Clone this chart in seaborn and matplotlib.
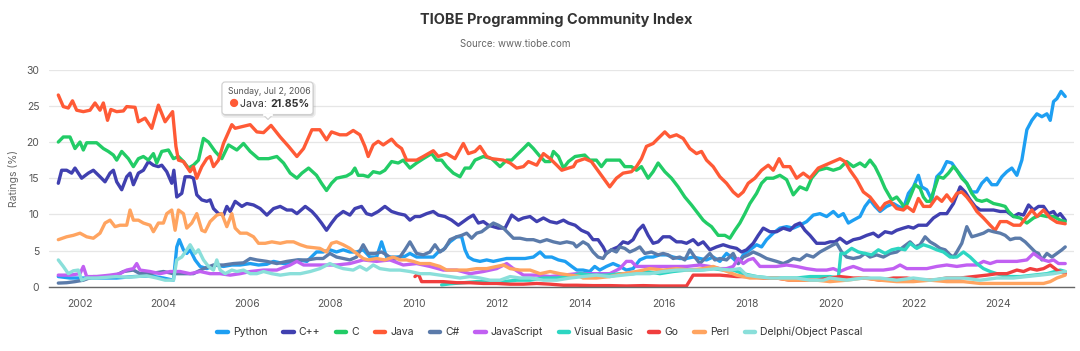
import matplotlib
matplotlib.use("Agg")
import matplotlib.pyplot as plt
import seaborn as sns
import pandas as pd
from matplotlib.lines import Line2D
from matplotlib.patches import Polygon, FancyBboxPatch
from matplotlib.text import Annotation
from matplotlib.transforms import IdentityTransform

# ---------------- data (year, rating %) ----------------
languages = ["Python", "C++", "C", "Java", "C#", "JavaScript",
             "Visual Basic", "Go", "Perl", "Delphi/Object Pascal"]
colors = ["#1E9FF2", "#4040B0", "#22CC66", "#FF5A36", "#5B7BAA",
          "#C160F2", "#2DD6C2", "#F03E3E", "#FFA460", "#8ADFDA"]

python = [(2001.48,1.4),(2001.76,1.2),(2002.08,1.2),(2002.48,1.2),(2002.88,1.2),(2003.28,1.4),(2003.68,1.5),(2004.00,1.2),(2004.24,0.9),(2004.32,5.5),(2004.38,6.5),(2004.48,5.1),(2004.56,4.6),(2004.64,5.1),(2004.76,3.7),(2004.88,2.8),(2005.04,2.5),(2005.24,3.0),(2005.44,2.8),(2005.64,3.0),(2005.84,3.0),(2006.08,3.2),(2006.28,3.0),(2006.48,3.1),(2006.64,3.5),(2006.88,3.2),(2007.04,3.2),(2007.24,3.7),(2007.44,3.5),(2007.67,4.8),(2007.83,4.8),(2007.99,5.1),(2008.15,4.8),(2008.31,5.1),(2008.47,4.8),(2008.63,4.8),(2008.79,5.1),(2008.95,4.1),(2009.11,4.1),(2009.23,6.2),(2009.35,4.1),(2009.59,4.1),(2009.79,4.2),(2009.91,4.6),(2010.07,4.1),(2010.27,4.1),(2010.47,4.1),(2010.59,4.8),(2010.71,5.1),(2010.87,6.2),(2011.03,6.9),(2011.15,6.9),(2011.23,5.1),(2011.31,4.1),(2011.43,3.7),(2011.59,3.5),(2011.75,3.7),(2011.91,3.5),(2012.07,3.7),(2012.23,3.9),(2012.47,3.9),(2012.67,3.9),(2012.87,4.1),(2013.03,4.8),(2013.15,4.1),(2013.31,4.1),(2013.47,3.7),(2013.63,3.5),(2013.79,2.8),(2013.91,2.3),(2014.06,2.3),(2014.22,2.1),(2014.34,2.8),(2014.46,2.3),(2014.62,2.8),(2014.78,3.2),(2014.94,2.8),(2015.10,2.3),(2015.26,2.5),(2015.42,3.7),(2015.58,4.1),(2015.74,4.1),(2015.90,4.4),(2016.06,4.4),(2016.22,4.1),(2016.38,3.9),(2016.54,3.9),(2016.70,4.1),(2016.86,3.9),(2017.02,3.7),(2017.18,4.1),(2017.34,3.5),(2017.50,4.6),(2017.66,3.9),(2017.78,3.2),(2017.90,4.4),(2018.06,5.1),(2018.22,5.8),(2018.34,5.5),(2018.46,6.5),(2018.62,7.4),(2018.78,8.1),(2018.94,8.3),(2019.10,8.1),(2019.26,8.5),(2019.42,9.0),(2019.58,9.9),(2019.74,10.1),(2019.90,9.7),(2020.06,10.4),(2020.18,9.7),(2020.30,10.1),(2020.42,8.8),(2020.54,9.2),(2020.70,9.7),(2020.82,11.1),(2020.94,12.0),(2021.06,11.1),(2021.18,10.4),(2021.34,11.1),(2021.50,11.5),(2021.62,11.1),(2021.74,10.8),(2021.86,12.9),(2021.98,13.8),(2022.10,15.4),(2022.18,13.8),(2022.30,13.4),(2022.42,12.0),(2022.54,15.2),(2022.66,15.9),(2022.78,17.3),(2022.90,17.1),(2023.02,16.1),(2023.14,15.2),(2023.26,14.3),(2023.38,13.1),(2023.50,13.1),(2023.62,14.3),(2023.74,15.0),(2023.86,14.1),(2023.98,14.1),(2024.10,15.2),(2024.22,15.9),(2024.34,16.4),(2024.46,15.4),(2024.58,17.5),(2024.70,21.7),(2024.82,23.0),(2024.94,23.9),(2025.06,23.5),(2025.18,23.9),(2025.26,23.0),(2025.34,25.6),(2025.42,26.0),(2025.52,27.0),(2025.62,26.3)]

cpp = [(2001.48,14.3),(2001.56,16.1),(2001.68,16.1),(2001.80,15.7),(2001.88,16.4),(2002.04,15.0),(2002.20,15.7),(2002.32,16.1),(2002.48,15.2),(2002.60,14.5),(2002.72,15.7),(2002.80,16.1),(2002.88,14.5),(2003.00,13.4),(2003.12,15.2),(2003.20,15.7),(2003.28,14.1),(2003.40,15.7),(2003.52,16.1),(2003.64,17.3),(2003.76,16.8),(2003.88,16.6),(2003.96,16.8),(2004.08,15.9),(2004.20,14.3),(2004.25,16.1),(2004.32,12.4),(2004.44,12.9),(2004.52,15.2),(2004.64,15.2),(2004.72,15.0),(2004.80,12.7),(2004.92,12.0),(2005.04,11.8),(2005.12,12.0),(2005.20,10.8),(2005.32,10.1),(2005.44,9.9),(2005.52,11.1),(2005.60,10.4),(2005.72,11.8),(2005.88,11.1),(2006.00,11.5),(2006.16,11.3),(2006.32,10.8),(2006.48,9.9),(2006.64,10.8),(2006.80,11.1),(2006.96,10.6),(2007.08,10.6),(2007.20,10.1),(2007.40,11.1),(2007.56,10.4),(2007.67,9.7),(2007.79,8.8),(2007.91,7.8),(2008.03,8.8),(2008.15,9.7),(2008.31,10.4),(2008.47,9.9),(2008.59,10.8),(2008.75,11.1),(2008.87,10.1),(2008.99,9.9),(2009.15,10.4),(2009.31,11.1),(2009.47,10.4),(2009.63,10.1),(2009.79,9.9),(2009.91,9.2),(2010.03,9.7),(2010.15,9.7),(2010.31,10.1),(2010.47,10.4),(2010.59,9.9),(2010.75,9.7),(2010.91,9.2),(2011.07,8.5),(2011.19,9.0),(2011.31,9.5),(2011.43,9.9),(2011.55,8.8),(2011.67,9.0),(2011.79,8.5),(2011.91,8.3),(2012.03,8.1),(2012.19,8.1),(2012.35,9.9),(2012.51,9.2),(2012.63,9.5),(2012.79,9.7),(2012.95,9.0),(2013.11,9.5),(2013.27,9.0),(2013.43,8.8),(2013.59,9.2),(2013.71,8.8),(2013.87,8.5),(2014.02,7.8),(2014.18,7.4),(2014.30,6.5),(2014.42,6.5),(2014.54,5.5),(2014.62,4.6),(2014.74,5.1),(2014.90,5.5),(2015.02,6.2),(2015.14,6.0),(2015.26,6.5),(2015.38,7.8),(2015.50,8.5),(2015.62,7.1),(2015.74,6.0),(2015.86,6.2),(2015.98,6.9),(2016.14,6.9),(2016.30,6.2),(2016.42,6.2),(2016.54,6.0),(2016.70,6.5),(2016.82,5.8),(2016.94,6.2),(2017.10,5.1),(2017.26,5.5),(2017.42,5.8),(2017.58,5.5),(2017.74,5.3),(2017.86,4.8),(2017.98,5.1),(2018.14,6.0),(2018.26,7.1),(2018.38,8.1),(2018.54,7.6),(2018.70,7.6),(2018.86,8.1),(2019.02,7.8),(2019.14,8.5),(2019.26,8.8),(2019.38,7.8),(2019.50,7.1),(2019.66,6.0),(2019.86,6.0),(2019.98,6.2),(2020.10,6.2),(2020.22,6.7),(2020.38,6.0),(2020.54,6.5),(2020.70,6.7),(2020.86,7.1),(2021.02,7.4),(2021.14,6.9),(2021.30,7.6),(2021.46,7.4),(2021.58,7.8),(2021.74,8.1),(2021.86,8.3),(2021.98,8.1),(2022.10,8.5),(2022.30,8.5),(2022.46,9.5),(2022.62,10.1),(2022.78,10.1),(2022.94,11.5),(2023.10,13.8),(2023.22,13.1),(2023.34,12.0),(2023.46,11.1),(2023.58,10.6),(2023.74,10.6),(2023.90,10.6),(2024.06,10.4),(2024.22,10.4),(2024.38,9.7),(2024.50,10.1),(2024.62,9.9),(2024.74,11.3),(2024.86,10.6),(2024.98,11.1),(2025.10,11.1),(2025.22,10.1),(2025.34,10.4),(2025.42,9.7),(2025.50,10.1),(2025.62,9.2)]

c_lang = [(2001.48,20.0),(2001.60,20.7),(2001.76,20.7),(2001.88,19.1),(2002.00,20.0),(2002.08,18.9),(2002.16,19.9),(2002.40,19.9),(2002.56,19.1),(2002.68,18.7),(2002.80,18.2),(2002.88,17.5),(2003.00,18.7),(2003.16,17.7),(2003.28,16.6),(2003.40,17.7),(2003.52,18.0),(2003.64,17.5),(2003.76,18.4),(2003.84,17.1),(2003.96,18.7),(2004.12,18.9),(2004.24,17.7),(2004.36,18.0),(2004.48,17.3),(2004.60,16.4),(2004.72,16.8),(2004.84,17.5),(2004.96,20.5),(2005.08,20.0),(2005.24,18.7),(2005.40,17.7),(2005.56,19.6),(2005.76,18.9),(2005.92,19.8),(2006.08,18.7),(2006.28,17.7),(2006.52,17.7),(2006.72,18.0),(2006.88,17.1),(2007.04,15.7),(2007.20,15.0),(2007.32,15.7),(2007.48,16.4),(2007.67,15.4),(2007.79,14.3),(2007.91,13.3),(2008.03,14.3),(2008.15,15.0),(2008.39,15.3),(2008.51,15.7),(2008.59,16.4),(2008.67,15.4),(2008.79,15.4),(2008.91,15.2),(2009.03,15.9),(2009.19,15.7),(2009.31,16.1),(2009.47,17.3),(2009.63,17.1),(2009.75,17.5),(2009.91,16.4),(2010.07,17.1),(2010.23,17.7),(2010.43,18.4),(2010.55,17.5),(2010.67,17.5),(2010.79,16.6),(2010.95,15.7),(2011.11,15.2),(2011.23,16.4),(2011.35,16.4),(2011.47,17.5),(2011.67,18.0),(2011.87,17.7),(2012.07,16.6),(2012.23,17.5),(2012.35,17.5),(2012.47,18.2),(2012.63,19.1),(2012.75,19.8),(2012.87,19.1),(2013.03,18.0),(2013.15,17.3),(2013.27,17.3),(2013.35,18.7),(2013.47,18.0),(2013.59,16.4),(2013.71,17.3),(2013.87,18.0),(2014.10,18.2),(2014.22,17.5),(2014.38,17.5),(2014.50,16.6),(2014.62,17.5),(2014.78,17.5),(2014.94,17.5),(2015.06,16.6),(2015.22,16.6),(2015.34,16.1),(2015.46,16.6),(2015.62,15.0),(2015.74,15.9),(2015.86,17.1),(2016.02,15.9),(2016.18,15.0),(2016.34,13.8),(2016.50,12.4),(2016.66,11.3),(2016.82,10.1),(2016.94,9.2),(2017.02,8.8),(2017.14,8.3),(2017.30,7.1),(2017.46,7.1),(2017.58,6.7),(2017.70,7.8),(2017.82,8.8),(2017.94,10.1),(2018.06,11.5),(2018.22,12.9),(2018.34,14.3),(2018.46,15.0),(2018.62,15.0),(2018.78,15.4),(2018.94,14.8),(2019.10,12.7),(2019.26,13.8),(2019.42,13.4),(2019.54,15.0),(2019.70,16.1),(2019.90,16.4),(2020.06,16.1),(2020.22,16.4),(2020.38,17.3),(2020.54,16.6),(2020.70,17.1),(2020.82,16.6),(2020.94,17.5),(2021.06,16.6),(2021.18,15.2),(2021.30,13.6),(2021.46,12.0),(2021.58,12.4),(2021.70,11.5),(2021.78,10.8),(2021.90,12.4),(2022.02,14.1),(2022.14,13.6),(2022.22,12.4),(2022.30,11.8),(2022.38,11.8),(2022.50,13.8),(2022.58,15.2),(2022.70,15.0),(2022.82,15.7),(2022.94,16.6),(2023.02,16.1),(2023.14,15.0),(2023.26,14.3),(2023.38,12.9),(2023.50,12.0),(2023.62,11.8),(2023.74,12.0),(2023.90,11.5),(2024.06,11.3),(2024.18,11.1),(2024.26,10.4),(2024.38,9.7),(2024.54,9.5),(2024.70,8.8),(2024.86,9.5),(2025.02,9.9),(2025.18,9.7),(2025.34,9.7),(2025.50,9.2),(2025.62,9.0)]

java = [(2001.48,26.5),(2001.60,24.9),(2001.72,24.7),(2001.82,25.7),(2001.92,24.4),(2002.08,24.2),(2002.24,24.4),(2002.36,25.4),(2002.48,24.4),(2002.56,25.4),(2002.66,23.0),(2002.74,24.5),(2002.88,24.2),(2003.04,24.3),(2003.12,24.9),(2003.32,24.8),(2003.40,22.8),(2003.56,23.3),(2003.72,21.9),(2003.88,25.1),(2004.04,22.8),(2004.22,24.2),(2004.30,19.4),(2004.36,17.5),(2004.48,17.3),(2004.64,15.9),(2004.72,16.6),(2004.80,15.0),(2004.92,16.6),(2005.04,17.7),(2005.12,18.0),(2005.20,16.6),(2005.32,17.5),(2005.44,19.8),(2005.64,22.4),(2005.72,21.9),(2006.08,22.4),(2006.24,21.4),(2006.40,21.3),(2006.50,21.85),(2006.58,22.3),(2006.80,20.7),(2007.00,19.4),(2007.20,18.0),(2007.36,19.1),(2007.56,21.7),(2007.75,21.7),(2007.91,20.3),(2008.03,21.4),(2008.23,21.0),(2008.39,21.0),(2008.55,21.6),(2008.71,21.0),(2008.83,19.4),(2008.91,18.0),(2009.03,19.6),(2009.15,20.1),(2009.27,19.6),(2009.47,20.4),(2009.59,19.6),(2009.71,19.1),(2009.83,17.5),(2010.07,17.5),(2010.23,18.0),(2010.47,18.8),(2010.59,18.0),(2010.79,18.4),(2010.99,17.7),(2011.19,19.8),(2011.31,18.4),(2011.47,18.7),(2011.59,19.4),(2011.75,18.0),(2011.87,17.7),(2012.15,17.5),(2012.31,17.1),(2012.47,16.4),(2012.63,16.6),(2012.75,17.3),(2012.95,16.8),(2013.11,18.4),(2013.27,17.7),(2013.43,16.8),(2013.55,16.1),(2013.71,16.4),(2013.83,16.6),(2013.90,17.3),(2014.10,17.7),(2014.26,17.3),(2014.46,15.7),(2014.70,13.8),(2014.86,15.0),(2015.02,15.7),(2015.22,15.9),(2015.34,16.6),(2015.46,17.7),(2015.58,19.4),(2015.74,19.8),(2015.86,20.5),(2016.02,21.4),(2016.14,20.7),(2016.30,21.0),(2016.46,20.5),(2016.62,19.1),(2016.78,18.4),(2016.90,18.7),(2017.02,17.5),(2017.18,16.6),(2017.34,15.2),(2017.50,14.3),(2017.66,13.1),(2017.78,12.5),(2017.90,13.1),(2018.02,14.3),(2018.18,15.0),(2018.34,16.1),(2018.50,16.8),(2018.62,16.1),(2018.76,17.7),(2018.86,16.6),(2019.02,16.6),(2019.18,15.0),(2019.34,15.7),(2019.50,15.0),(2019.70,16.4),(2019.98,17.1),(2020.14,17.5),(2020.22,17.7),(2020.34,17.3),(2020.46,16.1),(2020.62,14.8),(2020.78,13.1),(2020.94,12.4),(2021.06,11.5),(2021.18,10.6),(2021.30,11.5),(2021.42,11.8),(2021.58,10.8),(2021.74,10.6),(2021.82,11.1),(2021.98,10.4),(2022.10,12.2),(2022.22,11.1),(2022.38,11.1),(2022.54,12.4),(2022.66,11.8),(2022.78,12.7),(2022.90,11.8),(2023.02,12.9),(2023.14,13.1),(2023.26,12.4),(2023.38,11.5),(2023.50,10.4),(2023.66,9.5),(2023.82,8.5),(2023.94,7.8),(2024.06,9.0),(2024.22,9.0),(2024.38,8.5),(2024.54,8.5),(2024.70,9.7),(2024.82,10.6),(2024.94,9.7),(2025.10,10.6),(2025.26,9.5),(2025.42,8.9),(2025.62,8.7)]

csharp = [(2001.48,0.5),(2001.68,0.55),(2001.88,0.7),(2002.08,0.9),(2002.32,1.4),(2002.56,1.4),(2002.80,1.4),(2003.04,2.1),(2003.28,2.3),(2003.44,1.8),(2003.68,1.8),(2004.00,2.1),(2004.24,1.8),(2004.48,1.8),(2004.72,1.8),(2004.96,2.5),(2005.20,3.0),(2005.44,3.0),(2005.68,3.2),(2005.92,3.3),(2006.08,3.9),(2006.24,3.7),(2006.48,3.5),(2006.72,3.2),(2006.96,3.5),(2007.20,3.7),(2007.44,3.7),(2007.67,3.9),(2007.83,3.9),(2007.99,4.6),(2008.15,4.1),(2008.31,3.9),(2008.47,3.7),(2008.63,4.1),(2008.79,5.8),(2008.91,4.6),(2009.07,4.6),(2009.23,4.8),(2009.35,4.4),(2009.51,3.7),(2009.67,4.1),(2009.79,5.1),(2009.91,6.2),(2010.07,4.6),(2010.23,4.4),(2010.39,4.8),(2010.51,5.8),(2010.63,4.8),(2010.75,5.3),(2010.87,6.5),(2011.03,6.9),(2011.15,7.1),(2011.27,7.4),(2011.39,6.7),(2011.51,7.4),(2011.63,7.6),(2011.79,8.3),(2011.91,8.8),(2012.03,8.5),(2012.15,8.1),(2012.27,7.4),(2012.39,6.7),(2012.55,6.7),(2012.71,6.5),(2012.87,6.5),(2013.03,6.2),(2013.19,6.5),(2013.35,6.2),(2013.51,6.0),(2013.67,6.2),(2013.83,6.0),(2013.90,5.5),(2014.06,6.2),(2014.18,5.8),(2014.30,4.8),(2014.42,4.1),(2014.54,3.9),(2014.62,4.6),(2014.74,5.1),(2014.86,4.8),(2014.94,5.5),(2015.06,5.3),(2015.18,4.8),(2015.30,5.1),(2015.42,5.5),(2015.54,4.6),(2015.70,4.8),(2015.86,4.4),(2015.98,4.6),(2016.10,4.4),(2016.22,3.9),(2016.38,4.1),(2016.50,3.7),(2016.62,5.1),(2016.74,4.1),(2016.86,3.2),(2016.98,3.9),(2017.10,4.6),(2017.22,3.7),(2017.34,3.9),(2017.50,3.7),(2017.66,4.6),(2017.78,3.2),(2017.90,4.1),(2018.02,4.4),(2018.14,4.8),(2018.30,4.4),(2018.46,3.9),(2018.58,3.7),(2018.70,3.5),(2018.86,3.2),(2018.98,3.5),(2019.10,3.9),(2019.26,3.7),(2019.42,4.4),(2019.58,4.1),(2019.74,4.8),(2019.90,5.3),(2020.06,5.8),(2020.14,6.0),(2020.26,4.8),(2020.38,4.1),(2020.54,3.9),(2020.70,4.1),(2020.82,4.6),(2020.94,4.1),(2021.10,4.4),(2021.26,4.1),(2021.42,4.6),(2021.58,4.8),(2021.74,5.5),(2021.90,6.2),(2022.02,5.5),(2022.14,5.8),(2022.26,6.9),(2022.38,6.2),(2022.50,5.8),(2022.62,5.3),(2022.74,5.1),(2022.86,4.4),(2022.94,4.1),(2023.02,4.8),(2023.14,6.0),(2023.26,8.3),(2023.38,6.9),(2023.50,7.1),(2023.66,7.4),(2023.78,7.8),(2023.90,7.6),(2024.06,7.4),(2024.18,7.1),(2024.30,6.5),(2024.42,6.7),(2024.54,6.7),(2024.66,6.2),(2024.78,5.5),(2024.90,4.8),(2024.98,4.6),(2025.06,3.7),(2025.18,4.6),(2025.30,4.1),(2025.42,4.6),(2025.54,5.1),(2025.62,5.5)]

javascript = [(2001.48,1.6),(2001.76,1.6),(2002.00,1.8),(2002.08,2.8),(2002.16,1.4),(2002.40,1.4),(2002.72,1.6),(2002.96,1.8),(2003.12,2.3),(2003.28,2.5),(2003.36,3.2),(2003.44,2.3),(2003.68,2.1),(2003.92,1.8),(2004.16,2.1),(2004.40,2.1),(2004.64,1.8),(2004.88,2.1),(2005.12,1.8),(2005.36,1.8),(2005.60,1.6),(2005.84,1.8),(2006.08,2.1),(2006.40,2.3),(2006.72,2.3),(2007.04,3.0),(2007.20,3.5),(2007.36,3.0),(2007.60,3.0),(2007.83,3.0),(2008.15,3.0),(2008.47,3.2),(2008.79,3.7),(2009.11,3.5),(2009.43,3.7),(2009.75,3.0),(2010.07,3.2),(2010.39,2.8),(2010.71,2.3),(2011.03,2.3),(2011.35,1.8),(2011.67,2.1),(2011.99,2.5),(2012.23,3.2),(2012.39,2.5),(2012.63,1.6),(2012.95,1.6),(2013.27,1.4),(2013.59,1.6),(2013.91,1.8),(2014.38,1.8),(2014.70,1.8),(2014.94,2.5),(2015.10,3.5),(2015.22,3.5),(2015.34,2.8),(2015.58,2.8),(2015.90,2.8),(2016.22,2.8),(2016.54,2.8),(2016.86,3.0),(2017.10,2.8),(2017.34,2.5),(2017.50,2.5),(2017.66,2.8),(2017.78,3.9),(2017.90,3.2),(2018.02,3.7),(2018.14,3.9),(2018.30,2.8),(2018.46,2.8),(2018.70,2.8),(2018.94,3.0),(2019.18,2.8),(2019.42,2.5),(2019.66,2.3),(2019.90,2.3),(2020.06,2.5),(2020.22,2.1),(2020.38,2.5),(2020.54,2.8),(2020.78,2.3),(2021.02,2.3),(2021.26,2.3),(2021.50,2.5),(2021.66,3.0),(2021.82,2.5),(2022.06,2.5),(2022.30,2.5),(2022.54,2.8),(2022.78,3.0),(2023.02,2.8),(2023.26,3.0),(2023.50,3.0),(2023.66,3.5),(2023.82,3.2),(2023.98,3.5),(2024.22,3.5),(2024.46,3.5),(2024.70,3.7),(2024.86,4.6),(2024.98,4.1),(2025.10,3.7),(2025.22,3.5),(2025.34,3.7),(2025.46,3.2),(2025.62,3.2)]

visual_basic = [(2010.67,0.25),(2010.87,0.4),(2011.19,0.55),(2011.51,0.7),(2011.83,0.7),(2012.15,0.7),(2012.47,0.9),(2012.79,0.9),(2013.11,1.2),(2013.43,1.2),(2013.75,1.4),(2013.99,1.8),(2014.30,1.6),(2014.62,1.6),(2014.94,1.8),(2015.26,1.8),(2015.58,2.1),(2015.90,1.8),(2016.22,2.1),(2016.54,2.3),(2016.86,2.3),(2017.18,2.5),(2017.42,2.3),(2017.66,2.3),(2017.90,1.8),(2018.22,1.4),(2018.54,1.2),(2018.86,1.2),(2019.18,1.2),(2019.50,1.4),(2019.82,1.4),(2019.98,1.4),(2020.18,1.2),(2020.24,4.6),(2020.34,4.6),(2020.50,5.3),(2020.66,4.8),(2020.82,4.6),(2020.98,4.4),(2021.14,5.1),(2021.30,4.6),(2021.46,5.1),(2021.62,5.3),(2021.78,5.1),(2021.90,6.0),(2022.06,5.3),(2022.22,5.8),(2022.38,5.5),(2022.54,5.1),(2022.70,4.8),(2022.86,4.1),(2023.02,4.1),(2023.18,4.8),(2023.34,4.1),(2023.50,3.2),(2023.66,2.5),(2023.82,2.1),(2023.98,1.8),(2024.22,1.4),(2024.54,1.4),(2024.86,1.6),(2025.18,1.8),(2025.50,2.3),(2025.62,2.1)]

go = [(2010.03,1.4),(2010.11,1.8),(2010.19,0.7),(2010.39,0.7),(2010.71,0.7),(2011.03,0.55),(2011.35,0.55),(2011.67,0.45),(2011.99,0.45),(2012.31,0.35),(2012.63,0.35),(2012.95,0.45),(2013.27,0.35),(2013.59,0.2),(2013.91,0.2),(2014.30,0.15),(2014.70,0.15),(2015.10,0.1),(2015.50,0.15),(2015.90,0.1),(2016.30,0.1),(2016.54,0.1),(2016.70,1.6),(2016.94,1.6),(2017.34,1.6),(2017.74,1.4),(2018.06,1.4),(2018.38,1.2),(2018.70,1.2),(2019.02,0.9),(2019.34,0.9),(2019.66,0.9),(2019.98,1.2),(2020.22,1.4),(2020.54,1.2),(2020.86,1.2),(2021.18,0.9),(2021.50,1.2),(2021.82,1.2),(2022.14,0.9),(2022.46,0.9),(2022.78,1.2),(2023.10,1.2),(2023.42,1.4),(2023.74,1.6),(2023.98,1.8),(2024.22,1.8),(2024.46,2.3),(2024.62,2.1),(2024.78,2.5),(2024.94,2.3),(2025.10,2.5),(2025.26,3.0),(2025.42,2.3),(2025.62,1.8)]

perl = [(2001.48,6.5),(2001.68,6.9),(2001.84,7.1),(2002.00,7.4),(2002.16,6.9),(2002.32,6.7),(2002.48,7.4),(2002.60,8.8),(2002.72,9.2),(2002.84,8.3),(2002.96,8.5),(2003.12,8.5),(2003.20,10.6),(2003.28,9.2),(2003.40,9.2),(2003.52,8.8),(2003.68,8.5),(2003.76,7.6),(2003.88,8.8),(2004.00,8.8),(2004.08,10.1),(2004.20,10.6),(2004.28,7.8),(2004.36,10.6),(2004.48,10.1),(2004.56,8.1),(2004.68,8.8),(2004.80,10.1),(2004.92,7.8),(2005.00,7.6),(2005.12,9.0),(2005.28,9.9),(2005.40,10.1),(2005.52,8.3),(2005.64,10.1),(2005.72,8.1),(2005.84,7.4),(2006.00,7.4),(2006.16,6.9),(2006.28,6.0),(2006.44,6.0),(2006.60,6.2),(2006.80,6.0),(2006.96,6.2),(2007.12,6.2),(2007.28,5.8),(2007.44,5.5),(2007.75,5.3),(2007.91,4.8),(2008.03,6.0),(2008.15,6.2),(2008.31,5.8),(2008.47,5.3),(2008.63,4.6),(2008.79,3.9),(2008.91,3.7),(2009.11,3.9),(2009.31,3.7),(2009.51,4.1),(2009.67,3.7),(2009.83,3.7),(2009.99,3.5),(2010.15,3.2),(2010.39,3.2),(2010.63,2.8),(2010.79,2.3),(2011.03,2.3),(2011.27,2.3),(2011.51,2.5),(2011.75,2.5),(2011.99,2.8),(2012.15,3.0),(2012.31,2.5),(2012.55,2.3),(2012.79,2.3),(2013.03,1.8),(2013.27,2.1),(2013.51,1.8),(2013.75,1.6),(2013.99,1.4),(2014.06,1.2),(2014.38,1.2),(2014.70,1.4),(2015.02,1.8),(2015.34,2.1),(2015.66,2.5),(2015.98,2.3),(2016.30,2.5),(2016.62,2.3),(2016.94,2.5),(2017.18,2.8),(2017.42,2.3),(2017.74,1.6),(2018.06,1.2),(2018.38,1.2),(2018.70,1.2),(2019.02,0.9),(2019.34,0.9),(2019.66,0.9),(2019.98,0.7),(2020.38,0.9),(2020.78,1.2),(2021.18,0.9),(2021.58,0.7),(2021.98,0.7),(2022.38,0.9),(2022.78,0.7),(2023.18,0.7),(2023.58,0.45),(2023.98,0.45),(2024.38,0.45),(2024.78,0.45),(2025.10,0.45),(2025.26,0.7),(2025.42,1.2),(2025.62,1.6)]

delphi = [(2001.48,3.7),(2001.60,2.8),(2001.72,1.8),(2001.84,2.2),(2001.96,2.3),(2002.04,0.9),(2002.16,1.2),(2002.40,1.2),(2002.64,1.3),(2002.88,1.4),(2003.12,1.3),(2003.36,1.4),(2003.60,1.5),(2003.84,1.2),(2004.04,0.9),(2004.24,0.9),(2004.32,3.7),(2004.44,4.1),(2004.56,5.1),(2004.64,5.8),(2004.76,4.6),(2004.84,5.1),(2004.96,3.7),(2005.08,2.8),(2005.20,2.3),(2005.28,3.7),(2005.36,2.3),(2005.48,1.8),(2005.64,2.3),(2005.76,2.1),(2005.92,2.3),(2006.08,1.8),(2006.24,1.8),(2006.40,2.1),(2006.60,1.8),(2006.80,1.6),(2007.04,1.8),(2007.28,1.8),(2007.52,2.1),(2007.75,2.5),(2007.99,3.2),(2008.15,2.8),(2008.31,2.5),(2008.55,2.3),(2008.71,2.8),(2008.87,2.3),(2009.03,3.0),(2009.19,2.5),(2009.43,2.3),(2009.67,2.3),(2009.91,2.1),(2010.15,1.8),(2010.39,1.8),(2010.63,1.6),(2010.87,1.4),(2011.11,1.2),(2011.35,1.4),(2011.59,1.2),(2011.83,0.9),(2012.07,0.9),(2012.31,1.4),(2012.55,1.2),(2012.79,1.2),(2013.11,0.9),(2013.43,0.9),(2013.75,1.2),(2014.06,1.4),(2014.38,1.6),(2014.70,1.4),(2015.02,1.6),(2015.34,1.8),(2015.66,1.8),(2015.98,2.1),(2016.30,2.3),(2016.62,2.3),(2016.94,2.3),(2017.26,2.5),(2017.58,2.3),(2017.82,2.5),(2017.98,1.6),(2018.22,1.4),(2018.54,1.2),(2018.86,1.2),(2019.18,1.2),(2019.50,0.9),(2019.82,0.9),(2019.98,1.2),(2020.38,0.9),(2020.78,1.2),(2021.18,1.2),(2021.58,0.9),(2021.98,1.2),(2022.38,0.9),(2022.78,1.2),(2023.18,1.2),(2023.58,0.9),(2023.98,1.2),(2024.38,1.2),(2024.70,1.4),(2025.02,1.6),(2025.34,1.8),(2025.62,2.1)]

year_ticks = [2002, 2004, 2006, 2008, 2010, 2012, 2014, 2016, 2018, 2020, 2022, 2024]
rating_ticks = [0, 5, 10, 15, 20, 25, 30]
tooltip_date = "Sunday, Jul 2, 2006"
tooltip_year = 2006.50

series = {"Python": python, "C++": cpp, "C": c_lang, "Java": java, "C#": csharp,
          "JavaScript": javascript, "Visual Basic": visual_basic, "Go": go,
          "Perl": perl, "Delphi/Object Pascal": delphi}

rows = [(lang, x, y) for lang, pts in series.items() for x, y in pts]
df = pd.DataFrame(rows, columns=["Language", "Year", "Rating"])

# ---------------- figure ----------------
sns.set_theme(style="white")
plt.rcParams["font.family"] = ["Inter", "DejaVu Sans"]

W, H = 1080, 351
fig = plt.figure(figsize=(W / 100, H / 100), dpi=100)
fig.patch.set_facecolor("white")

def fx(x):
    return x / W

def fy(y):
    return 1 - y / H

ax_l, ax_r, ax_t, ax_b = 49, 1074, 69.7, 286.7
ax = fig.add_axes([fx(ax_l), fy(ax_b), (ax_r - ax_l) / W, (ax_b - ax_t) / H])

sns.lineplot(data=df, x="Year", y="Rating", hue="Language", hue_order=languages,
             palette=colors, estimator=None, sort=False, linewidth=2.4,
             legend=False, ax=ax, solid_joinstyle="round", solid_capstyle="round")

ax.set_xlim(2001.257, 2025.83)
ax.set_ylim(0, 30)
ax.set_xticks(year_ticks)
ax.set_xticklabels([str(t) for t in year_ticks])
ax.set_yticks(rating_ticks)
ax.grid(axis="y", color="#e6e6e6", linewidth=0.9)
ax.grid(axis="x", visible=False)
ax.set_axisbelow(True)
for side in ["top", "right", "left"]:
    ax.spines[side].set_visible(False)
ax.spines["bottom"].set_color("#666666")
ax.spines["bottom"].set_linewidth(1.0)
ax.tick_params(axis="x", length=5.2, width=0.9, color="#666666", pad=4,
               labelsize=7.5, labelcolor="#555555")
ax.tick_params(axis="y", length=0, pad=7, labelsize=7.5, labelcolor="#555555")
ax.set_xlabel("")
ax.set_ylabel("Ratings (%)", fontsize=7.5, color="#666666", labelpad=5)

# ---------------- titles ----------------
fig.text(fx(556), fy(20), "TIOBE Programming Community Index", ha="center", va="center",
         fontsize=10.5, fontweight="bold", color="#333333")
fig.text(fx(515), fy(44), "Source: www.tiobe.com", ha="center", va="center",
         fontsize=7, color="#666666")

# ---------------- legend ----------------
handles = [Line2D([0], [0], color=c, lw=3.2, solid_capstyle="round") for c in colors]
fig.legend(handles, languages, ncol=10, loc="center", bbox_to_anchor=(fx(540), fy(332)),
           frameon=False, fontsize=7.5, handlelength=1.0, handletextpad=0.5,
           columnspacing=1.5, labelcolor="#333333")

# ---------------- tooltip (pixel coordinates, origin bottom-left) ----------------
java_val = dict(java)[tooltip_year]
ident = IdentityTransform()
bl, br, bt, bb = 222, 313, 82, 114.5
tip_x, tip_y = 268, 119.5

def P(x, y):
    return (x, H - y)

shadow = FancyBboxPatch(P(bl + 1, bb + 1.5), br - bl, bb - bt,
                        boxstyle="round,pad=0,rounding_size=3", transform=ident,
                        facecolor="#000000", alpha=0.08, edgecolor="#000000",
                        linewidth=2.5, zorder=4)
box = FancyBboxPatch(P(bl, bb), br - bl, bb - bt,
                     boxstyle="round,pad=0,rounding_size=3", transform=ident,
                     facecolor="white", edgecolor="#cfcfcf", linewidth=0.8, zorder=5)
pointer = Polygon([P(tip_x - 5, bb), P(tip_x, tip_y), P(tip_x + 5, bb)], closed=False,
                  transform=ident, facecolor="white", edgecolor="#cfcfcf",
                  linewidth=0.8, zorder=5.5)
cover = Line2D([tip_x - 4.2, tip_x + 4.2], [H - bb, H - bb], transform=ident,
               color="white", linewidth=1.6, zorder=5.6)
for a in (shadow, box, pointer, cover):
    fig.add_artist(a)

fig.text(fx(228.5), fy(91.7), tooltip_date, ha="left", va="center", fontsize=6.3,
         color="#555555", zorder=6)
fig.text(fx(233.5), fy(104), "\u25CF", ha="center", va="center", fontsize=8,
         color=colors[3], zorder=6)
t1 = fig.text(fx(240.5), fy(104), "Java: ", ha="left", va="center", fontsize=7.6,
              color="#333333", zorder=6)
val_text = Annotation(f"{java_val:.2f}%", xy=(1, 0.5), xycoords=t1, ha="left",
                      va="center", fontsize=7.6, fontweight="bold", color="#333333")
val_text.set_zorder(6)
fig.add_artist(val_text)

fig.savefig("out.png", dpi=100, facecolor="white")
